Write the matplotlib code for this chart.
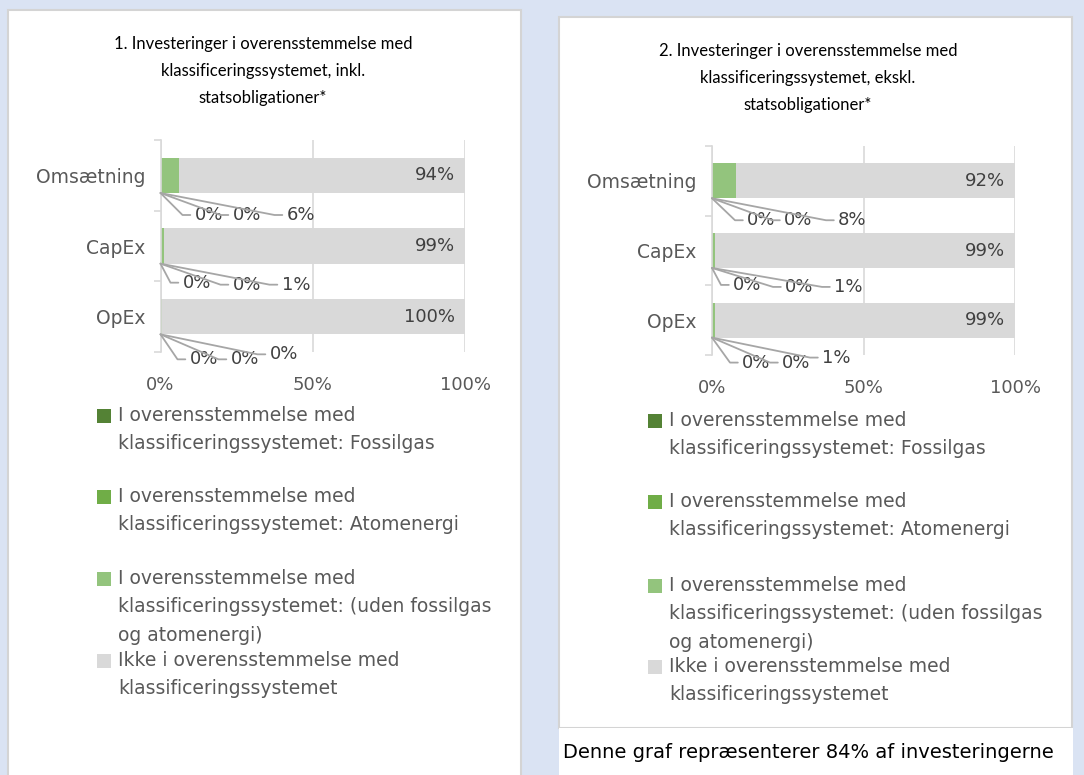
import math
import matplotlib
matplotlib.use('Agg')
import matplotlib.pyplot as plt
from matplotlib.patches import Rectangle

# ── Data ───────────────────────────────────────────────────────────────────────
categories = ['Omsætning', 'CapEx', 'OpEx']
series_names = [
    'I overensstemmelse med\nklassificeringssystemet: Fossilgas',
    'I overensstemmelse med\nklassificeringssystemet: Atomenergi',
    'I overensstemmelse med\nklassificeringssystemet: (uden fossilgas\nog atomenergi)',
    'Ikke i overensstemmelse med\nklassificeringssystemet',
]
titles = [
    '1. Investeringer i overensstemmelse med\nklassificeringssystemet, inkl.\nstatsobligationer*',
    '2. Investeringer i overensstemmelse med\nklassificeringssystemet, ekskl.\nstatsobligationer*',
]

# chart 1 (inkl. statsobligationer)
fossil_1   = [0.0, 0.0, 0.0]
nuclear_1  = [0.0, 0.0, 0.0]
aligned_1  = [6.0, 1.0, 0.4]
other_1    = [94.0, 99.0, 99.6]

# chart 2 (ekskl. statsobligationer)
fossil_2   = [0.0, 0.0, 0.0]
nuclear_2  = [0.0, 0.0, 0.0]
aligned_2  = [8.0, 1.0, 1.0]
other_2    = [92.0, 99.0, 99.0]

x_ticks = [0, 50, 100]
x_tick_labels = ['0%', '50%', '100%']
footnote = 'Denne graf repræsenterer 84% af investeringerne'

# ── Style ──────────────────────────────────────────────────────────────────────
COLORS     = ['#548235', '#70ad47', '#93c47d', '#d9d9d9']
BG         = '#dae3f3'
TXT_GRAY   = '#595959'
LBL_DARK   = '#404040'
LEADER     = '#a6a6a6'
W, H       = 1084, 775
FONT_BODY  = 'DejaVu Sans'
FONT_TITLE = 'Lato'

# leader-line label offsets (pixels from bar bottom-left), per category, per small series
offsets_1 = [[(34, -22), (72, -22), (126, -22)],
             [(22, -19), (72, -21), (121, -21)],
             [(29, -25), (70, -25), (109, -20)]]
offsets_2 = [[(35, -22), (72, -22), (126, -22)],
             [(21, -17), (73, -19), (122, -19)],
             [(30, -25), (70, -25), (110, -20)]]


def fx(px):
    return px / W


def fy(py):
    return 1 - py / H


fig = plt.figure(figsize=(W / 100, H / 100), dpi=100)
fig.patch.set_facecolor(BG)

# ── Panels ─────────────────────────────────────────────────────────────────────
for (x0, y0, x1, y1, ec) in [(8, 10, 521, 790, '#d4d4d4'),
                             (559, 17, 1072, 728, '#d4d4d4'),
                             (559, 728, 1073, 790, 'none')]:
    fig.patches.append(Rectangle((fx(x0), fy(y1)), fx(x1 - x0), (y1 - y0) / H,
                                 transform=fig.transFigure, facecolor='white',
                                 edgecolor=ec, lw=1.5, zorder=-5))


def draw_chart(ax_box, data, offsets, title, title_xy, legend_x, legend_ys):
    left, top, right, bottom = ax_box
    ax = fig.add_axes([fx(left), fy(bottom), fx(right - left), (bottom - top) / H])
    ax.set_facecolor('none')

    ypos = list(range(len(categories)))
    bar_h = 0.5
    starts = [0.0] * len(categories)
    for vals, col in zip(data, COLORS):
        ax.barh(ypos, vals, left=starts, height=bar_h, color=col, zorder=2)
        starts = [s + v for s, v in zip(starts, vals)]

    ax.set_xlim(0, 100)
    ax.set_ylim(len(categories) - 0.5, -0.5)
    ax.set_xticks(x_ticks)
    ax.set_xticklabels(x_tick_labels, fontsize=13, color=TXT_GRAY, family=FONT_BODY)
    ax.set_yticks(ypos)
    ax.set_yticklabels(categories, fontsize=13.5, color=TXT_GRAY, family=FONT_BODY)
    ax.set_yticks([p - 0.5 for p in ypos] + [len(categories) - 0.5], minor=True)
    ax.tick_params(axis='x', length=0, pad=17)
    ax.tick_params(axis='y', which='major', length=0, pad=11)
    ax.tick_params(axis='y', which='minor', length=5, color='#d9d9d9', width=1.2)
    ax.xaxis.grid(True, color='#d9d9d9', lw=1.2, zorder=0)
    ax.set_axisbelow(True)
    for s in ['top', 'right', 'bottom']:
        ax.spines[s].set_visible(False)
    ax.spines['left'].set_color('#d9d9d9')
    ax.spines['left'].set_linewidth(1.2)

    # small-series labels with leader lines
    for ci in range(len(categories)):
        y_bot = ypos[ci] + bar_h / 2
        for si in range(3):
            dx, dy = offsets[ci][si]
            ang = math.degrees(math.atan2(dy, dx - 12))
            ax.annotate(f'{data[si][ci]:.0f}%', xy=(0, y_bot), xytext=(dx, dy),
                        textcoords='offset pixels', ha='left', va='center',
                        fontsize=13, color=LBL_DARK, family=FONT_BODY, zorder=4,
                        arrowprops=dict(arrowstyle='-', color=LEADER, lw=1.3,
                                        shrinkA=1, shrinkB=0, relpos=(0, 0.5),
                                        connectionstyle=f'angle,angleA=0,angleB={ang},rad=0'))
        # not-aligned label inside end
        ax.annotate(f'{data[3][ci]:.0f}%', xy=(starts[ci], ypos[ci]), xytext=(-10, 0),
                    textcoords='offset pixels', ha='right', va='center',
                    fontsize=13, color=LBL_DARK, family=FONT_BODY, zorder=4)

    fig.text(fx(title_xy[0]), fy(title_xy[1]), title, ha='center', va='top',
             fontsize=12, family=FONT_TITLE, color='black', linespacing=1.85)

    # legend (manual, to keep Excel's uneven spacing)
    for col, name, ly in zip(COLORS, series_names, legend_ys):
        fig.patches.append(Rectangle((fx(legend_x - 21), fy(ly + 17)), fx(14), 14 / H,
                                     transform=fig.transFigure, facecolor=col,
                                     edgecolor='none'))
        fig.text(fx(legend_x), fy(ly), name, ha='left', va='top',
                 fontsize=13.5, family=FONT_BODY, color=TXT_GRAY, linespacing=1.62)
    return ax


# legend text placed with top of first line
draw_chart((160.5, 140, 465, 352),
           [fossil_1, nuclear_1, aligned_1, other_1], offsets_1,
           titles[0], (263, 36), 118, [406, 487, 569, 651])
draw_chart((712, 146, 1015, 355),
           [fossil_2, nuclear_2, aligned_2, other_2], offsets_2,
           titles[1], (808, 43), 669, [411, 492, 576, 657])

fig.text(fx(563), fy(752), footnote, ha='left', va='center',
         fontsize=14, family=FONT_BODY, color='black')

plt.savefig('out.png', dpi=100, facecolor=BG)
